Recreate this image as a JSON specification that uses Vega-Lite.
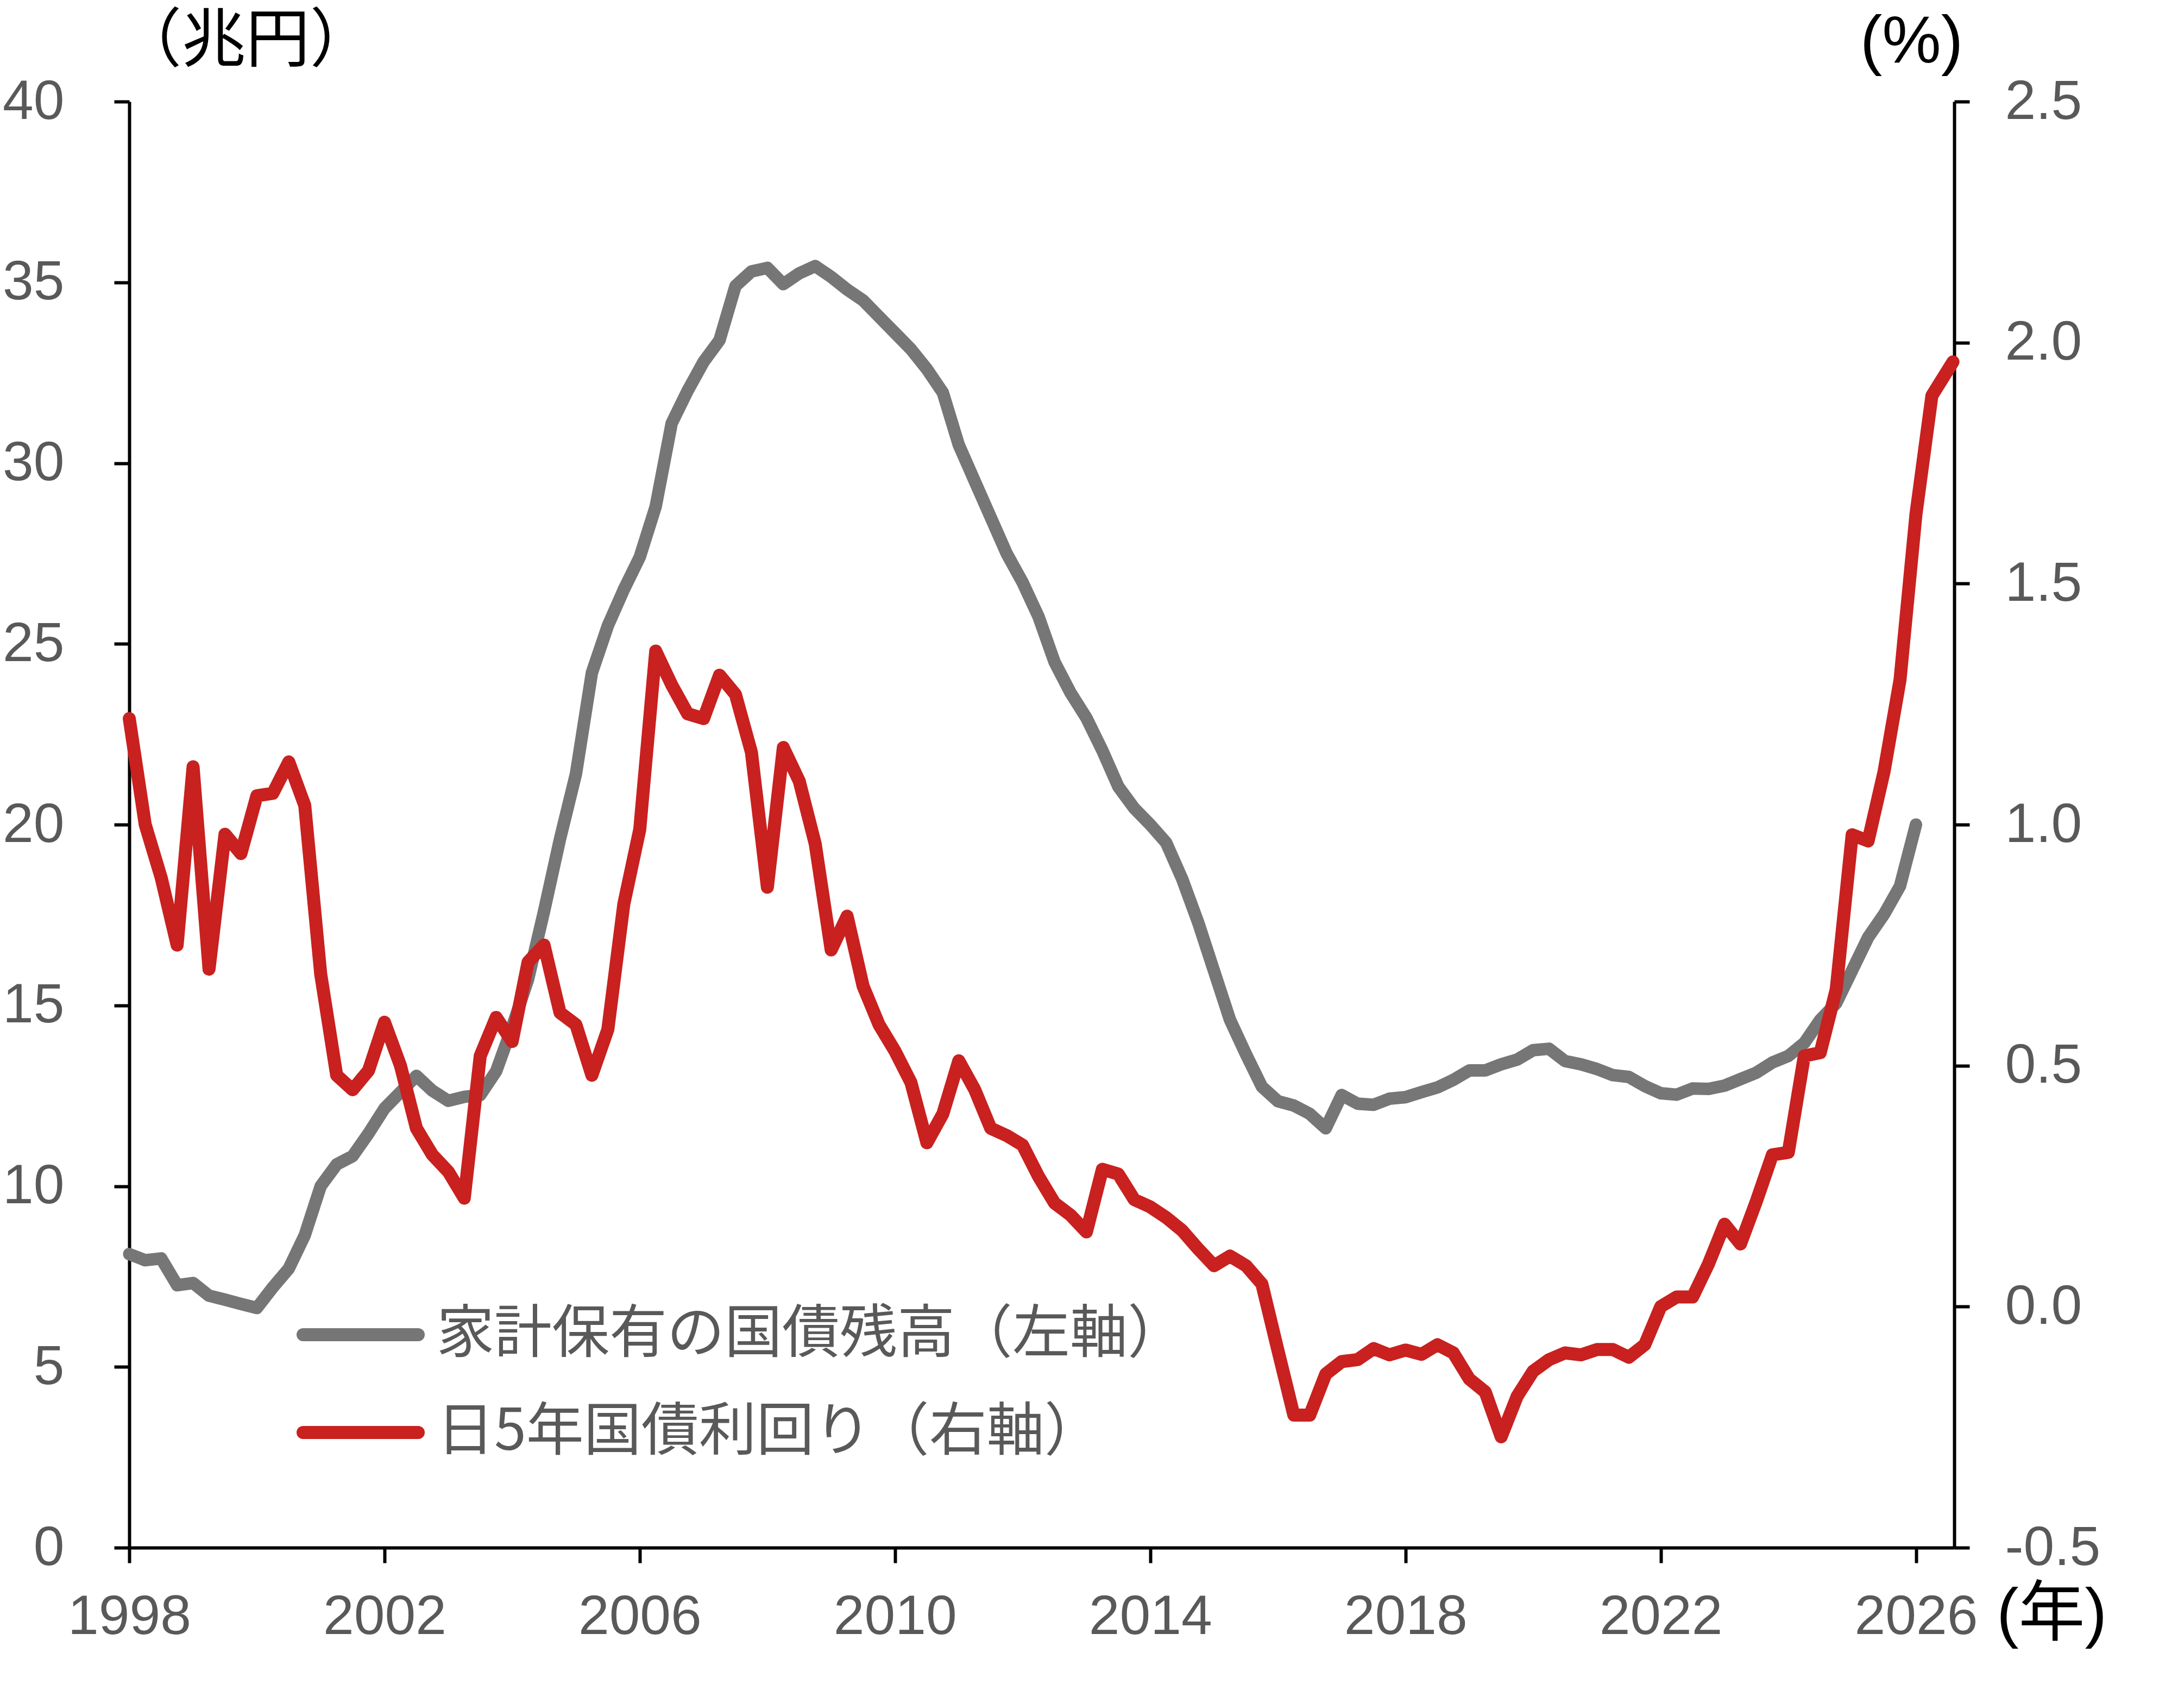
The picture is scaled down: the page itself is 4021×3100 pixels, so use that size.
{
  "$schema": "https://vega.github.io/schema/vega-lite/v6.json",
  "width": 3360,
  "height": 2662,
  "autosize": {"type": "none"},
  "padding": {"left": 238, "top": 187, "right": 423, "bottom": 251},
  "background": "white",
  "config": {
    "view": {"stroke": null},
    "locale": {"number": {"decimal": ".", "thousands": ",", "grouping": [3], "currency": ["$", ""], "minus": "-"}},
    "axis": {
      "grid": false,
      "labelFont": "'Liberation Sans', Arial, sans-serif",
      "labelFontSize": 102,
      "labelColor": "#595959",
      "labelFlush": false,
      "labelOverlap": false,
      "labelLimit": 0,
      "tickSize": 28,
      "tickWidth": 6,
      "tickColor": "#000000",
      "domainColor": "#000000",
      "domainWidth": 6,
      "titleFontWeight": "normal",
      "titleColor": "#000000",
      "titleAngle": 0,
      "titleAlign": "center",
      "titleBaseline": "middle",
      "titleLimit": 0
    }
  },
  "data": {
    "values": [
      {"year": 1998.00, "holdings": 8.12, "yield": 1.22},
      {"year": 1998.25, "holdings": 7.95, "yield": 1.00},
      {"year": 1998.50, "holdings": 8.00, "yield": 0.89},
      {"year": 1998.75, "holdings": 7.26, "yield": 0.75},
      {"year": 1999.00, "holdings": 7.32, "yield": 1.12},
      {"year": 1999.25, "holdings": 6.97, "yield": 0.70},
      {"year": 1999.50, "holdings": 6.86, "yield": 0.98},
      {"year": 1999.75, "holdings": 6.74, "yield": 0.94},
      {"year": 2000.00, "holdings": 6.63, "yield": 1.06},
      {"year": 2000.25, "holdings": 7.20, "yield": 1.065},
      {"year": 2000.50, "holdings": 7.72, "yield": 1.13},
      {"year": 2000.75, "holdings": 8.64, "yield": 1.04},
      {"year": 2001.00, "holdings": 10.0, "yield": 0.69},
      {"year": 2001.25, "holdings": 10.6, "yield": 0.48},
      {"year": 2001.50, "holdings": 10.83, "yield": 0.45},
      {"year": 2001.75, "holdings": 11.46, "yield": 0.49},
      {"year": 2002.00, "holdings": 12.15, "yield": 0.59},
      {"year": 2002.25, "holdings": 12.6, "yield": 0.50},
      {"year": 2002.50, "holdings": 13.05, "yield": 0.37},
      {"year": 2002.75, "holdings": 12.64, "yield": 0.315},
      {"year": 2003.00, "holdings": 12.36, "yield": 0.28},
      {"year": 2003.25, "holdings": 12.47, "yield": 0.225},
      {"year": 2003.50, "holdings": 12.52, "yield": 0.52},
      {"year": 2003.75, "holdings": 13.18, "yield": 0.60},
      {"year": 2004.00, "holdings": 14.4, "yield": 0.55},
      {"year": 2004.25, "holdings": 15.72, "yield": 0.715},
      {"year": 2004.50, "holdings": 17.6, "yield": 0.75},
      {"year": 2004.75, "holdings": 19.6, "yield": 0.61},
      {"year": 2005.00, "holdings": 21.4, "yield": 0.585},
      {"year": 2005.25, "holdings": 24.2, "yield": 0.48},
      {"year": 2005.50, "holdings": 25.5, "yield": 0.575},
      {"year": 2005.75, "holdings": 26.5, "yield": 0.835},
      {"year": 2006.00, "holdings": 27.4, "yield": 0.99},
      {"year": 2006.25, "holdings": 28.8, "yield": 1.36},
      {"year": 2006.50, "holdings": 31.1, "yield": 1.29},
      {"year": 2006.75, "holdings": 32.0, "yield": 1.23},
      {"year": 2007.00, "holdings": 32.8, "yield": 1.22},
      {"year": 2007.25, "holdings": 33.4, "yield": 1.31},
      {"year": 2007.50, "holdings": 34.9, "yield": 1.27},
      {"year": 2007.75, "holdings": 35.3, "yield": 1.15},
      {"year": 2008.00, "holdings": 35.4, "yield": 0.87},
      {"year": 2008.25, "holdings": 34.95, "yield": 1.16},
      {"year": 2008.50, "holdings": 35.25, "yield": 1.09},
      {"year": 2008.75, "holdings": 35.45, "yield": 0.96},
      {"year": 2009.00, "holdings": 35.15, "yield": 0.74},
      {"year": 2009.25, "holdings": 34.8, "yield": 0.81},
      {"year": 2009.50, "holdings": 34.5, "yield": 0.665},
      {"year": 2009.75, "holdings": 34.05, "yield": 0.585},
      {"year": 2010.00, "holdings": 33.6, "yield": 0.53},
      {"year": 2010.25, "holdings": 33.15, "yield": 0.465},
      {"year": 2010.50, "holdings": 32.6, "yield": 0.34},
      {"year": 2010.75, "holdings": 31.95, "yield": 0.40},
      {"year": 2011.00, "holdings": 30.5, "yield": 0.51},
      {"year": 2011.25, "holdings": 29.5, "yield": 0.45},
      {"year": 2011.50, "holdings": 28.5, "yield": 0.37},
      {"year": 2011.75, "holdings": 27.5, "yield": 0.355},
      {"year": 2012.00, "holdings": 26.7, "yield": 0.335},
      {"year": 2012.25, "holdings": 25.75, "yield": 0.27},
      {"year": 2012.50, "holdings": 24.5, "yield": 0.215},
      {"year": 2012.75, "holdings": 23.65, "yield": 0.19},
      {"year": 2013.00, "holdings": 22.95, "yield": 0.155},
      {"year": 2013.25, "holdings": 22.05, "yield": 0.285},
      {"year": 2013.50, "holdings": 21.05, "yield": 0.275},
      {"year": 2013.75, "holdings": 20.45, "yield": 0.222},
      {"year": 2014.00, "holdings": 20.0, "yield": 0.207},
      {"year": 2014.25, "holdings": 19.5, "yield": 0.185},
      {"year": 2014.50, "holdings": 18.5, "yield": 0.158},
      {"year": 2014.75, "holdings": 17.3, "yield": 0.12},
      {"year": 2015.00, "holdings": 15.95, "yield": 0.085},
      {"year": 2015.25, "holdings": 14.6, "yield": 0.105},
      {"year": 2015.50, "holdings": 13.65, "yield": 0.085},
      {"year": 2015.75, "holdings": 12.75, "yield": 0.047},
      {"year": 2016.00, "holdings": 12.35, "yield": -0.09},
      {"year": 2016.25, "holdings": 12.23, "yield": -0.225},
      {"year": 2016.50, "holdings": 12.0, "yield": -0.225},
      {"year": 2016.75, "holdings": 11.6, "yield": -0.14},
      {"year": 2017.00, "holdings": 12.52, "yield": -0.114},
      {"year": 2017.25, "holdings": 12.28, "yield": -0.11},
      {"year": 2017.50, "holdings": 12.25, "yield": -0.087},
      {"year": 2017.75, "holdings": 12.42, "yield": -0.10},
      {"year": 2018.00, "holdings": 12.46, "yield": -0.09},
      {"year": 2018.25, "holdings": 12.6, "yield": -0.099},
      {"year": 2018.50, "holdings": 12.73, "yield": -0.079},
      {"year": 2018.75, "holdings": 12.94, "yield": -0.096},
      {"year": 2019.00, "holdings": 13.2, "yield": -0.15},
      {"year": 2019.25, "holdings": 13.2, "yield": -0.177},
      {"year": 2019.50, "holdings": 13.37, "yield": -0.27},
      {"year": 2019.75, "holdings": 13.5, "yield": -0.186},
      {"year": 2020.00, "holdings": 13.76, "yield": -0.134},
      {"year": 2020.25, "holdings": 13.8, "yield": -0.11},
      {"year": 2020.50, "holdings": 13.46, "yield": -0.096},
      {"year": 2020.75, "holdings": 13.37, "yield": -0.10},
      {"year": 2021.00, "holdings": 13.24, "yield": -0.089},
      {"year": 2021.25, "holdings": 13.07, "yield": -0.089},
      {"year": 2021.50, "holdings": 13.02, "yield": -0.105},
      {"year": 2021.75, "holdings": 12.77, "yield": -0.079},
      {"year": 2022.00, "holdings": 12.57, "yield": 0.0},
      {"year": 2022.25, "holdings": 12.53, "yield": 0.02},
      {"year": 2022.50, "holdings": 12.7, "yield": 0.02},
      {"year": 2022.75, "holdings": 12.69, "yield": 0.089},
      {"year": 2023.00, "holdings": 12.78, "yield": 0.171},
      {"year": 2023.25, "holdings": 12.96, "yield": 0.13},
      {"year": 2023.50, "holdings": 13.14, "yield": 0.219},
      {"year": 2023.75, "holdings": 13.42, "yield": 0.315},
      {"year": 2024.00, "holdings": 13.6, "yield": 0.32},
      {"year": 2024.25, "holdings": 13.96, "yield": 0.52},
      {"year": 2024.50, "holdings": 14.6, "yield": 0.527},
      {"year": 2024.75, "holdings": 15.06, "yield": 0.658},
      {"year": 2025.00, "holdings": 15.97, "yield": 0.979},
      {"year": 2025.25, "holdings": 16.88, "yield": 0.966},
      {"year": 2025.50, "holdings": 17.52, "yield": 1.11},
      {"year": 2025.75, "holdings": 18.3, "yield": 1.30},
      {"year": 2026.00, "holdings": 20.0, "yield": 1.644},
      {"year": 2026.25, "holdings": null, "yield": 1.89},
      {"year": 2026.58, "holdings": null, "yield": 1.96}
    ]
  },
  "encoding": {
    "x": {
      "field": "year",
      "type": "quantitative",
      "scale": {"domain": [1998, 2026.6], "nice": false, "zero": false},
      "axis": {
        "values": [1998, 2002, 2006, 2010, 2014, 2018, 2022, 2026],
        "format": "d",
        "labelPadding": 49,
        "title": "(年)",
        "titleFont": "'Liberation Sans', 'Noto Sans CJK JP', sans-serif",
        "titleFontSize": 122,
        "titleX": 3539,
        "titleY": 123
      }
    }
  },
  "layer": [
    {
      "mark": {"type": "line", "strokeWidth": 23, "strokeCap": "round", "strokeJoin": "round"},
      "encoding": {
        "y": {
          "field": "holdings",
          "type": "quantitative",
          "scale": {"domain": [0, 40], "nice": false},
          "axis": {
            "orient": "left",
            "values": [0, 5, 10, 15, 20, 25, 30, 35, 40],
            "format": "d",
            "labelPadding": 92,
            "title": "（兆円）",
            "titleFont": "'Liberation Sans', 'Noto Sans CJK JP', sans-serif",
            "titleFontSize": 118,
            "titleX": 214,
            "titleY": -110
          }
        },
        "color": {
          "datum": "家計保有の国債残高（左軸）",
          "type": "nominal",
          "scale": {
            "domain": ["家計保有の国債残高（左軸）", "日5年国債利回り（右軸）"],
            "range": ["#767676", "#c8211f"]
          },
          "legend": {
            "orient": "none",
            "legendX": 308,
            "legendY": 2220,
            "title": null,
            "direction": "vertical",
            "symbolType": "stroke",
            "symbolSize": 44944,
            "symbolStrokeWidth": 24,
            "clipHeight": 100,
            "rowPadding": 74,
            "padding": 0,
            "labelFont": "'Noto Sans CJK JP', sans-serif",
            "labelFontSize": 106,
            "labelColor": "#595959",
            "labelOffset": 22,
            "labelLimit": 0,
            "encode": {"symbols": {"update": {"strokeCap": {"value": "round"}}}}
          }
        }
      }
    },
    {
      "mark": {"type": "line", "strokeWidth": 24, "strokeCap": "round", "strokeJoin": "round"},
      "encoding": {
        "y": {
          "field": "yield",
          "type": "quantitative",
          "scale": {"domain": [-0.5, 2.5], "nice": false, "zero": false},
          "axis": {
            "orient": "right",
            "values": [-0.5, 0, 0.5, 1, 1.5, 2, 2.5],
            "format": ".1f",
            "labelPadding": 65,
            "title": "(%)",
            "titleFont": "'Liberation Sans', Arial, sans-serif",
            "titleFontSize": 122,
            "titleX": -79,
            "titleY": -110
          }
        },
        "color": {"datum": "日5年国債利回り（右軸）", "type": "nominal"}
      }
    }
  ],
  "resolve": {"scale": {"y": "independent"}}
}
